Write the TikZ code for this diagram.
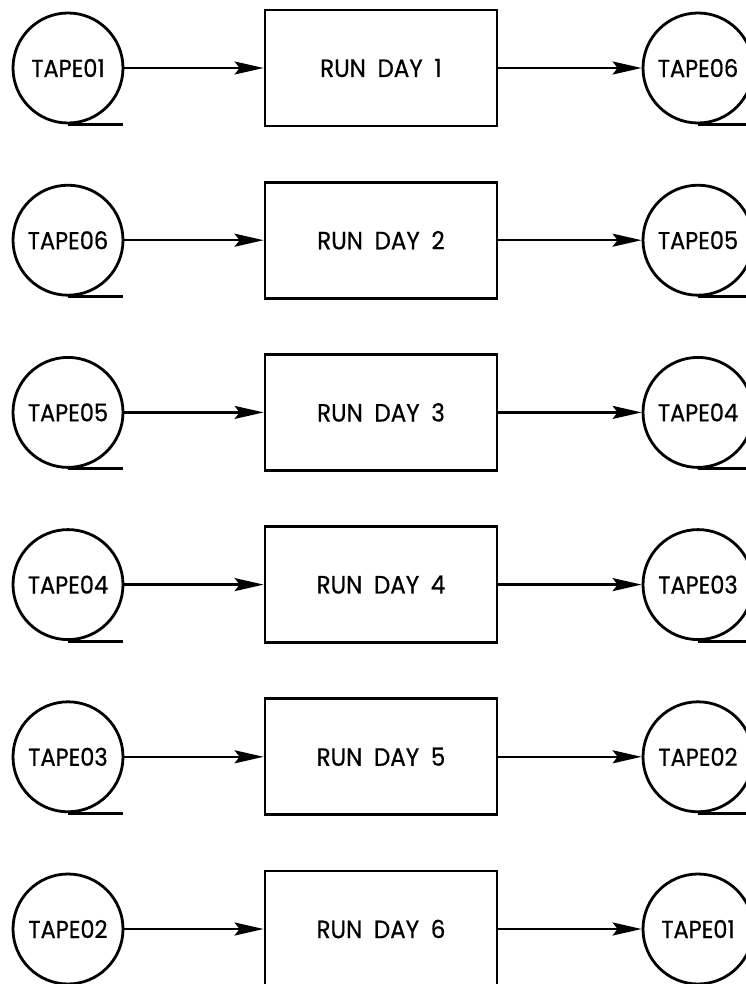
\documentclass[tikz,border=0pt]{standalone}
\usepackage{fontspec}
\setmainfont{Poppins}[FakeStretch=0.92,WordSpace=1.9,FakeBold=0.6]
\usetikzlibrary{arrows.meta}
\begin{document}
\begin{tikzpicture}[x=1pt,y=-1pt,
  tape/.style={draw,circle,line width=2.8pt,minimum size=110pt,inner sep=0pt,font=\fontsize{24.5}{24.5}\selectfont},
  runbox/.style={draw,rectangle,line width=2.8pt,minimum width=232pt,minimum height=116pt,inner sep=0pt,font=\fontsize{25}{25}\selectfont},
  flow/.style={line width=2.4pt,-{Stealth[length=29pt,width=13pt,inset=5pt]}},
  reel/.style={line width=3pt}]
  \useasboundingbox (0,0) rectangle (745,984);
  \foreach \day/\src/\dst [count=\i from 0] in {1/01/06,2/06/05,3/05/04,4/04/03,5/03/02,6/02/01}{
    \pgfmathsetmacro{\yc}{68+172.2*\i}
    \node[tape]   (in\day)  at (68,\yc)  {TAPE\src};
    \node[runbox] (run\day) at (381,\yc) {RUN DAY \day};
    \node[tape]   (out\day) at (698,\yc) {TAPE\dst};
    \draw[flow] (in\day) -- (run\day);
    \draw[flow] (run\day) -- (out\day);
    \draw[reel] (in\day.south) -- ++(55,0);
    \draw[reel] (out\day.south) -- ++(55,0);
  }
\end{tikzpicture}
\end{document}
